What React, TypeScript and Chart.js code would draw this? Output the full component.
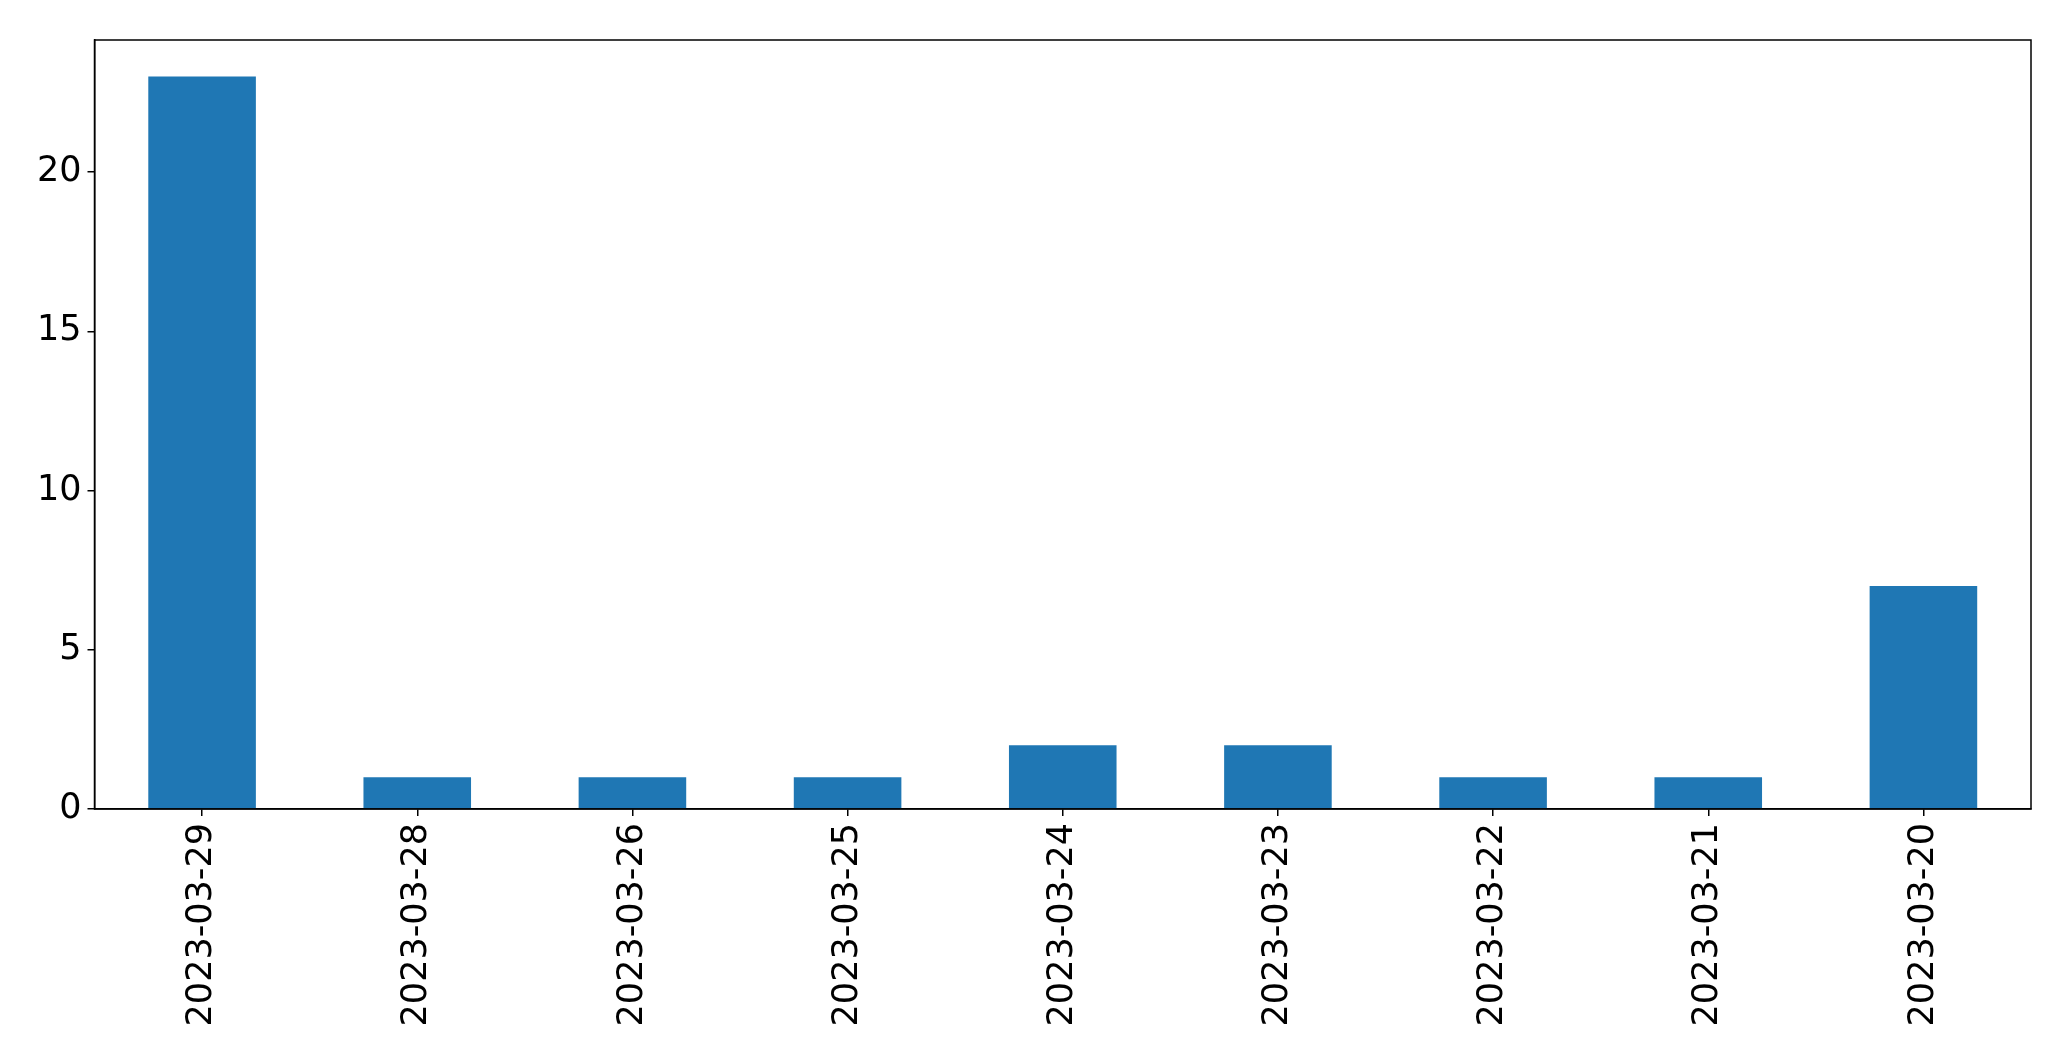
import React, { useEffect, useRef } from "react";
import { Chart, registerables } from "chart.js";

Chart.register(...registerables);

const categories = [
  "2023-03-29",
  "2023-03-28",
  "2023-03-26",
  "2023-03-25",
  "2023-03-24",
  "2023-03-23",
  "2023-03-22",
  "2023-03-21",
  "2023-03-20",
];
const counts = [23, 1, 1, 1, 2, 2, 1, 1, 7];
const yTickStep = 5;
const yMax = 24.15;

const W = 2071;
const H = 1061;

const framePlugin = {
  id: "frame",
  afterDraw(chart: any) {
    const { ctx, chartArea } = chart;
    ctx.save();
    ctx.strokeStyle = "#000";
    ctx.lineWidth = 1.5;
    ctx.strokeRect(chartArea.left, chartArea.top, chartArea.right - chartArea.left, chartArea.bottom - chartArea.top);
    ctx.restore();
  },
};

export default function App() {
  const ref = useRef<HTMLCanvasElement>(null);
  useEffect(() => {
    if (!ref.current) return;
    const font = { family: "'DejaVu Sans', sans-serif", size: 35 };
    const chart = new Chart(ref.current, {
      type: "bar",
      data: {
        labels: categories,
        datasets: [
          {
            data: counts,
            backgroundColor: "#1f77b4",
            borderWidth: 0,
            barPercentage: 0.5,
            categoryPercentage: 1,
          },
        ],
      },
      options: {
        responsive: false,
        animation: false,
        devicePixelRatio: 1,
        layout: { padding: { top: 40, right: 40, left: 0, bottom: 0 } },
        plugins: { legend: { display: false }, tooltip: { enabled: false } },
        scales: {
          x: {
            type: "category",
            offset: true,
            grid: {
              display: true,
              drawOnChartArea: false,
              drawTicks: true,
              tickLength: 7,
              color: "#000",
              lineWidth: 1.5,
              offset: false,
            },
            border: { display: true, color: "#000", width: 1.5 },
            ticks: {
              color: "#000",
              font,
              minRotation: 90,
              maxRotation: 90,
              padding: 7,
              autoSkip: false,
            },
            afterFit(scale: any) {
              scale.height = 252;
            },
          },
          y: {
            min: 0,
            max: yMax,
            grid: {
              display: true,
              drawOnChartArea: false,
              drawTicks: true,
              tickLength: 7,
              color: "#000",
              lineWidth: 1.5,
            },
            border: { display: true, color: "#000", width: 1.5 },
            ticks: {
              color: "#000",
              font,
              stepSize: yTickStep,
              includeBounds: false,
              padding: 6,
            },
            afterFit(scale: any) {
              scale.width = 94.5;
            },
          },
        },
      },
      plugins: [framePlugin],
    });
    return () => chart.destroy();
  }, []);
  return (
    <div style={{ position: "absolute", left: 0, top: 0, width: W, height: H, background: "#fff" }}>
      <canvas ref={ref} width={W} height={H} style={{ width: W, height: H }} />
    </div>
  );
}
